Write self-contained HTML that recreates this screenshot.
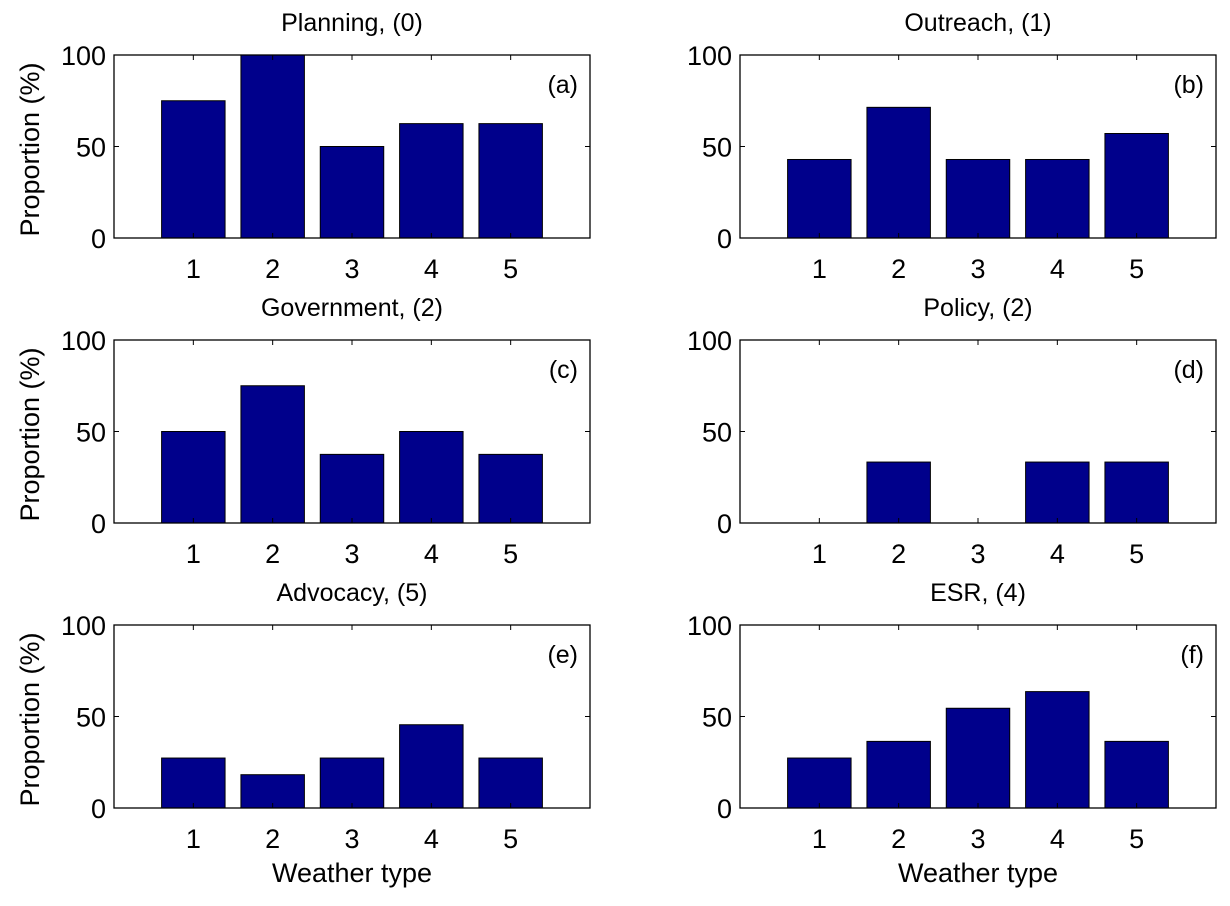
<!DOCTYPE html>
<html><head><meta charset="utf-8"><style>
body{margin:0;background:#fff;}
svg text{font-family:"Liberation Sans",Arial,sans-serif;fill:#000;}
</style></head><body>
<svg id="fig" width="1230" height="901" xmlns="http://www.w3.org/2000/svg"></svg>
<script>
const categories = [1, 2, 3, 4, 5];
const yTicks = [0, 50, 100];
const titles = ["Planning, (0)", "Outreach, (1)", "Government, (2)", "Policy, (2)", "Advocacy, (5)", "ESR, (4)"];
const panelLabels = ["(a)", "(b)", "(c)", "(d)", "(e)", "(f)"];
const valuesA = [75, 100, 50, 62.5, 62.5];
const valuesB = [42.9, 71.4, 42.9, 42.9, 57.1];
const valuesC = [50, 75, 37.5, 50, 37.5];
const valuesD = [0, 33.3, 0, 33.3, 33.3];
const valuesE = [27.3, 18.2, 27.3, 45.5, 27.3];
const valuesF = [27.3, 36.4, 54.5, 63.6, 36.4];
const allValues = [valuesA, valuesB, valuesC, valuesD, valuesE, valuesF];

const svg = document.getElementById('fig');
const NS = 'http://www.w3.org/2000/svg';
function mk(tag, attrs, parent){const e=document.createElementNS(NS,tag);for(const k in attrs)e.setAttribute(k,attrs[k]);(parent||svg).appendChild(e);return e;}
const lefts=[114,740], tops=[55,340,625], W=476, H=183;
for(let p=0;p<6;p++){
  const col=p%2,row=Math.floor(p/2);
  const L=lefts[col],T=tops[row];
  const g=mk('g',{});
  
  
  const x=v=>L+v/6*W, y=v=>T+H-v/100*H;
  allValues[p].forEach((v,i)=>{
    const bw=0.8*W/6;
    const r=mk('rect',{x:x(categories[i])-bw/2,y:y(v),width:bw,height:y(0)-y(v),fill:'#00008B',stroke:'#000','stroke-width':1},g);
    
    
  });
  const box=mk('rect',{x:L,y:T,width:W,height:H,fill:'none',stroke:'#000','stroke-width':1.3},g);
  
  
  categories.forEach(c=>{
    mk('line',{x1:x(c),x2:x(c),y1:T,y2:T+5,stroke:'#000'},g);
    mk('line',{x1:x(c),x2:x(c),y1:T+H,y2:T+H-5,stroke:'#000'},g);
    const t=mk('text',{x:x(c),y:T+H+40,'text-anchor':'middle','font-size':27},g);t.textContent=c;
    
    
  });
  yTicks.forEach(v=>{
    mk('line',{x1:L,x2:L+5,y1:y(v),y2:y(v),stroke:'#000'},g);
    mk('line',{x1:L+W,x2:L+W-5,y1:y(v),y2:y(v),stroke:'#000'},g);
    const t=mk('text',{x:L-8,y:y(v)+10,'text-anchor':'end','font-size':27},g);t.textContent=v;
    
    
  });
  const tt=mk('text',{x:L+W/2,y:T-24,'text-anchor':'middle','font-size':25},g);tt.textContent=titles[p];
  
  
  const pl=mk('text',{x:L+W-12,y:T+38,'text-anchor':'end','font-size':25},g);pl.textContent=panelLabels[p];
  
  
  if(col===0){
    const yl=mk('text',{x:0,y:0,'text-anchor':'middle','font-size':27,transform:`translate(39,${T+H/2+3}) rotate(-90)`},g);yl.textContent='Proportion (%)';
    
    
  }
  if(row===2){
    const xl=mk('text',{x:L+W/2,y:T+H+74,'text-anchor':'middle','font-size':27},g);xl.textContent='Weather type';
    
    
  }
}
</script>
</body></html>
